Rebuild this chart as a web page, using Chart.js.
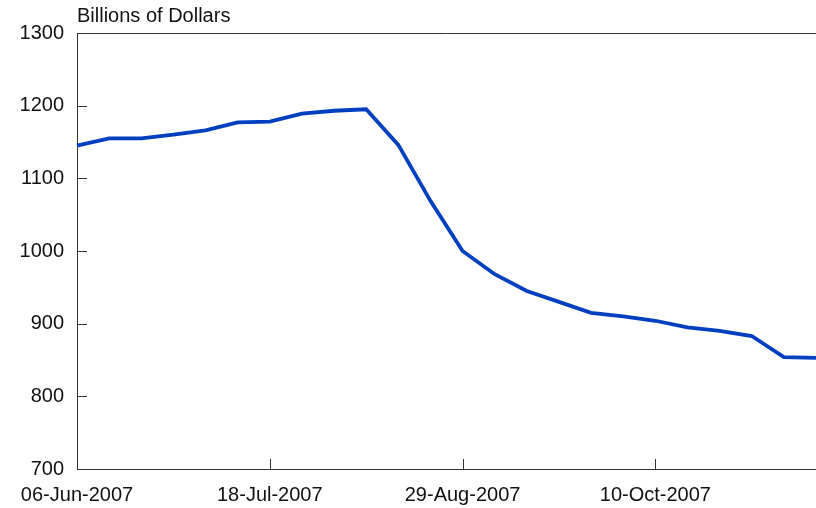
<!DOCTYPE html>
<html>
<head>
<meta charset="utf-8">
<script src="https://cdn.jsdelivr.net/npm/chart.js@4"></script>
<style>
  html, body { margin: 0; padding: 0; background: #fff; }
  #wrap { width: 816px; height: 508px; position: relative; }
</style>
</head>
<body>
<div id="wrap"><canvas id="grafica"></canvas></div>
<script>
// Semanas (miércoles) de junio a noviembre de 2007
const semanas = [
  "06-Jun-2007", "13-Jun-2007", "20-Jun-2007", "27-Jun-2007", "04-Jul-2007", "11-Jul-2007",
  "18-Jul-2007", "25-Jul-2007", "01-Aug-2007", "08-Aug-2007", "15-Aug-2007", "22-Aug-2007",
  "29-Aug-2007", "05-Sep-2007", "12-Sep-2007", "19-Sep-2007", "26-Sep-2007", "03-Oct-2007",
  "10-Oct-2007", "17-Oct-2007", "24-Oct-2007", "31-Oct-2007", "07-Nov-2007", "14-Nov-2007"
];
const valores = [
  1145, 1155, 1155, 1160, 1166, 1177,
  1178, 1189, 1193, 1195, 1146, 1069,
  1000, 968, 945, 930, 915, 910,
  904, 895, 890, 883, 854, 853
];
const etiquetasX = ["06-Jun-2007", "18-Jul-2007", "29-Aug-2007", "10-Oct-2007"];
const unidad = "Billions of Dollars";

const colorEje = "#333";
const fuente = "'Liberation Sans', Arial, sans-serif";

// Ticks hacia dentro, borde superior y título de unidades
const marcas = {
  id: "marcas",
  afterDraw(chart) {
    const { ctx, chartArea, scales } = chart;
    ctx.save();
    ctx.strokeStyle = colorEje;
    ctx.lineWidth = 1;
    ctx.beginPath();
    // borde superior
    ctx.moveTo(chartArea.left, chartArea.top + 0.5);
    ctx.lineTo(chartArea.right, chartArea.top + 0.5);
    // ticks eje y
    scales.y.ticks.forEach(t => {
      const y = Math.round(scales.y.getPixelForValue(t.value)) + 0.5;
      ctx.moveTo(chartArea.left, y);
      ctx.lineTo(chartArea.left + 10, y);
    });
    // ticks eje x
    semanas.forEach((s, i) => {
      if (!etiquetasX.includes(s) || i === 0) return;
      const x = Math.round(scales.x.getPixelForValue(i)) + 0.5;
      ctx.moveTo(x, chartArea.bottom);
      ctx.lineTo(x, chartArea.bottom - 10);
    });
    ctx.stroke();

    ctx.fillStyle = "#111";
    ctx.font = "20px " + fuente;
    ctx.textBaseline = "middle";
    ctx.textAlign = "left";
    ctx.fillText(unidad, chartArea.left, 16);
    ctx.restore();
  }
};

new Chart(document.getElementById("grafica"), {
  type: "line",
  data: {
    labels: semanas,
    datasets: [{
      data: valores,
      borderColor: "#0040c0",
      borderWidth: 3.8,
      pointRadius: 0,
      tension: 0,
      fill: false
    }]
  },
  options: {
    responsive: true,
    maintainAspectRatio: false,
    animation: false,
    layout: { padding: { top: 33, right: 0, left: 0, bottom: 0 } },
    plugins: {
      legend: { display: false },
      tooltip: { enabled: false }
    },
    scales: {
      x: {
        offset: false,
        grid: { display: false, drawTicks: false },
        border: { display: true, color: colorEje, width: 1 },
        afterFit(scale) {
          scale.height = 39;
          scale.paddingLeft = 0;
          scale.paddingRight = 0;
        },
        ticks: {
          autoSkip: false,
          maxRotation: 0,
          padding: 14,
          color: "#111",
          font: { family: fuente, size: 20 },
          callback(v, i) {
            return etiquetasX.includes(semanas[i]) ? semanas[i] : "";
          }
        }
      },
      y: {
        min: 700,
        max: 1300,
        grid: { display: false, drawTicks: false },
        border: { display: true, color: colorEje, width: 1 },
        afterFit(scale) {
          scale.width = 77;
          scale.paddingTop = 0;
          scale.paddingBottom = 0;
        },
        ticks: {
          stepSize: 100,
          padding: 13,
          color: "#111",
          font: { family: fuente, size: 20 },
          callback(v) { return String(v); }
        }
      }
    }
  },
  plugins: [marcas]
});
</script>
</body>
</html>
